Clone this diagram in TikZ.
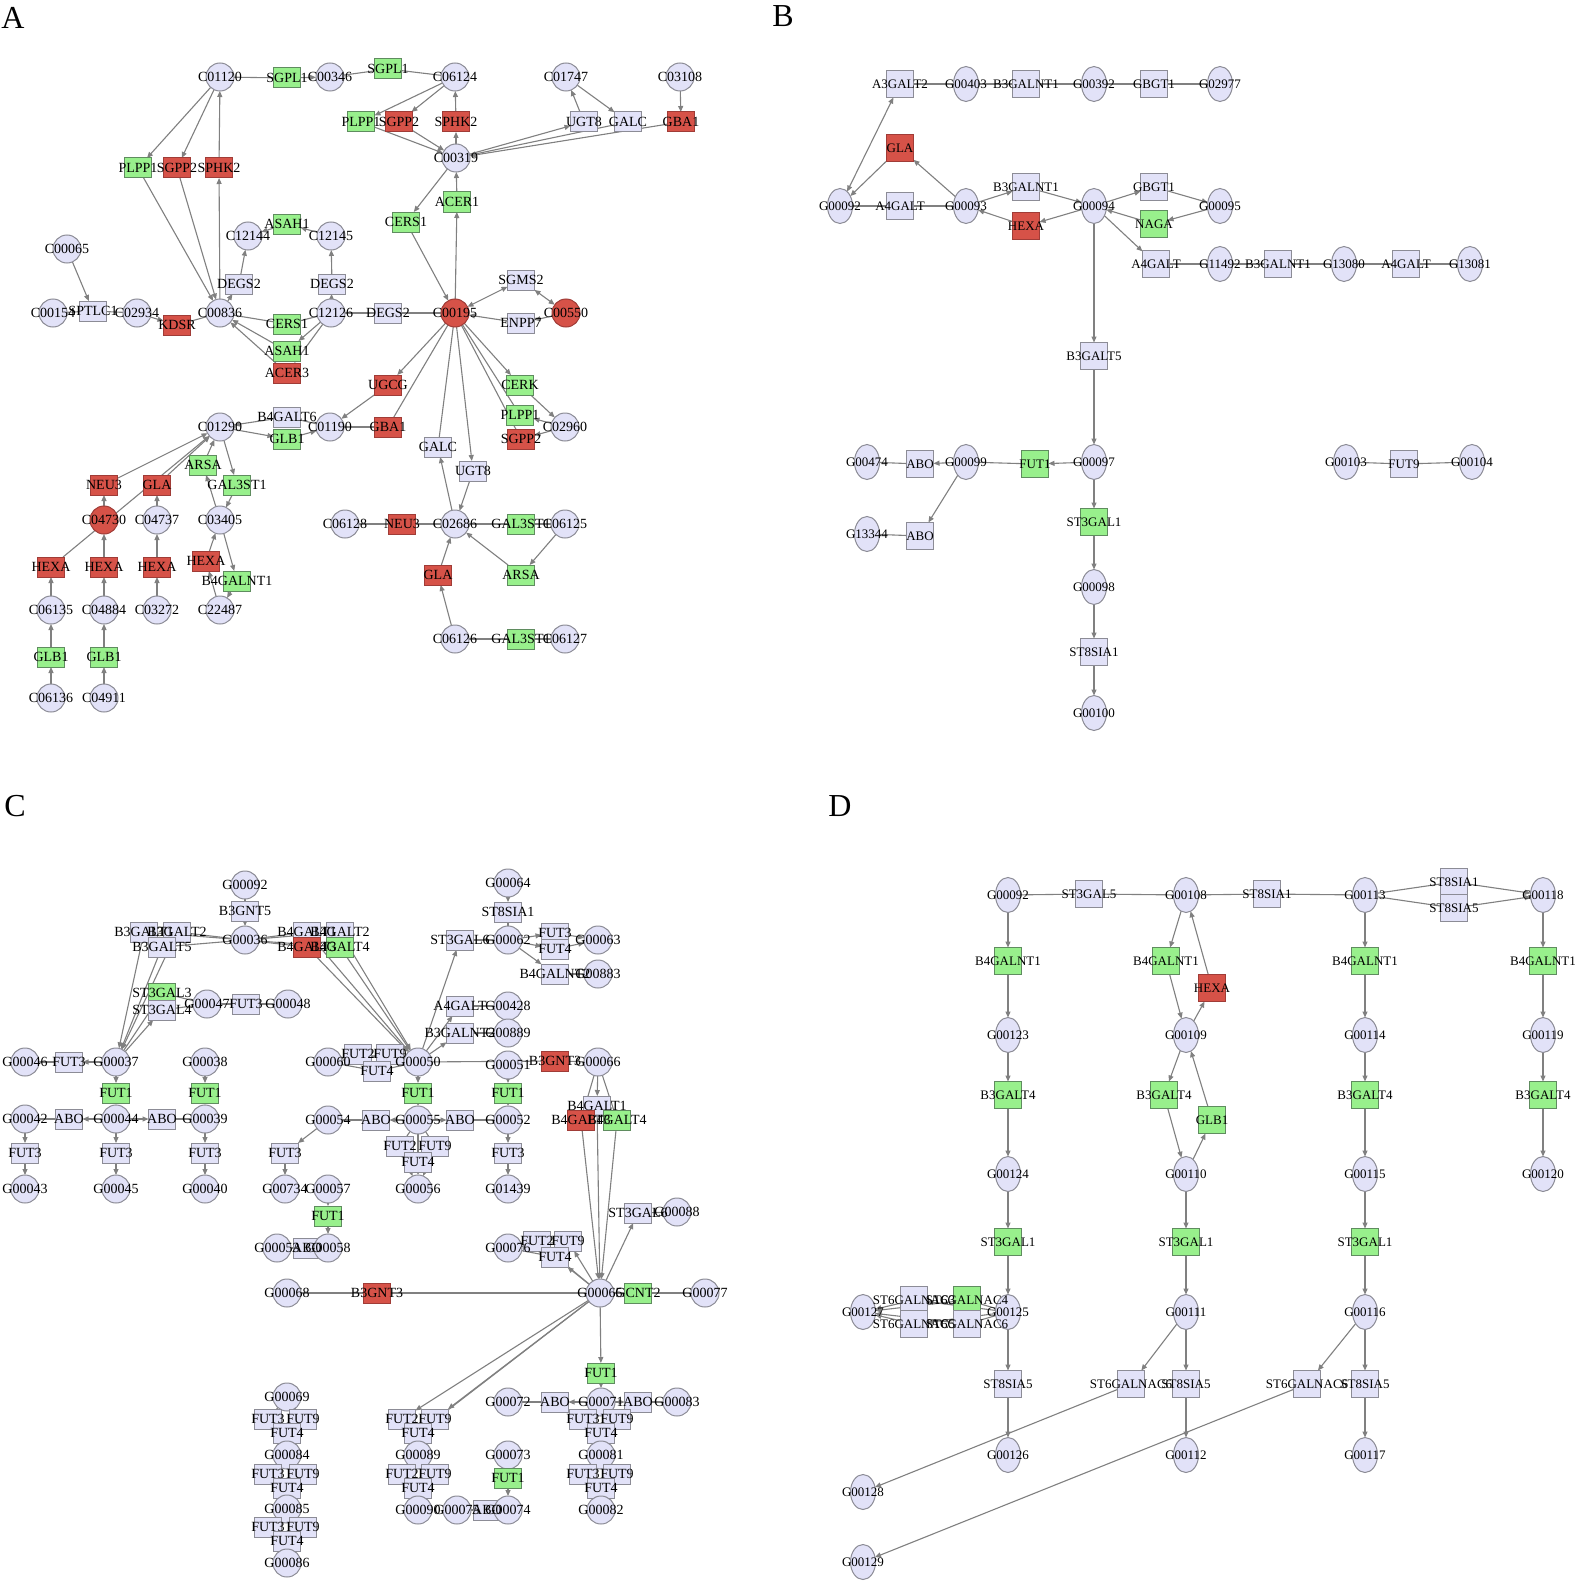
\documentclass[tikz,border=0pt]{standalone}
\usepackage{fontspec}
\setmainfont{Liberation Serif}
\usetikzlibrary{arrows.meta,shapes.geometric}
\definecolor{lav}{RGB}{226,226,248}
\definecolor{lavd}{RGB}{140,140,150}
\definecolor{grn}{RGB}{152,240,140}
\definecolor{grnd}{RGB}{95,140,95}
\definecolor{rd}{RGB}{214,82,72}
\definecolor{rdd}{RGB}{160,60,55}
\definecolor{edgec}{RGB}{128,128,128}
\pgfdeclarelayer{bg}\pgfdeclarelayer{fg}\pgfsetlayers{bg,main,fg}
\def\alllabels{}
\def\lblstyle{lblA}
\newcommand\mknode[5]{\node[#2] (#1) at (#3,#4) {};%
 \xdef\alllabels{\unexpanded\expandafter{\alllabels}\noexpand\node[\lblstyle] (#1t) at (#3,#4) {#5};}}
\newcommand\EA[2]{\draw[arr] (#1) -- (#2);}
\newcommand\EL[2]{\draw[lnk] (#1) -- (#2);}
\newcommand\EB[2]{\draw[bia] (#1) -- (#2);}
\tikzset{
 basenode/.style={draw=lavd, line width=1pt, inner sep=0pt, outer sep=0pt},
 cir/.style={basenode, circle, minimum size=28pt, fill=lav},
 cirr/.style={cir, fill=rd, draw=rdd},
 box/.style={basenode, rectangle, minimum width=27pt, minimum height=20pt, fill=lav},
 boxg/.style={box, fill=grn, draw=grnd},
 boxr/.style={box, fill=rd, draw=rdd},
 ell/.style={basenode, ellipse, minimum width=25pt, minimum height=35pt, fill=lav},
 sq/.style={basenode, rectangle, minimum width=27pt, minimum height=27pt, fill=lav},
 sqg/.style={sq, fill=grn, draw=grnd},
 sqr/.style={sq, fill=rd, draw=rdd},
 lblA/.style={inner sep=0pt, font=\fontsize{14}{16}\selectfont, text=black},
 lblB/.style={inner sep=0pt, font=\fontsize{13}{15}\selectfont, text=black},
 lnk/.style={draw=edgec, line width=1.1pt},
 arr/.style={lnk, -{Triangle[length=6pt,width=5pt]}},
 bia/.style={lnk, {Triangle[length=6pt,width=5pt]}-{Triangle[length=6pt,width=5pt]}},
 panel/.style={inner sep=0pt, font=\fontsize{32}{36}\selectfont}
}
\begin{document}
\begin{tikzpicture}[x=1pt,y=-1pt]
\useasboundingbox (0,0) rectangle (1578,1581);
\node[panel] (pA) at (13,18) {A};
\node[panel] (pB) at (783,16) {B};
\node[panel] (pC) at (15,806) {C};
\node[panel] (pD) at (840,806) {D};
% ---------------- Panel A
\mknode{aC01120}{cir}{220}{77}{C01120}
\mknode{aSGPL1a}{boxg}{287}{78}{SGPL1}
\mknode{aC00346}{cir}{330}{77}{C00346}
\mknode{aSGPL1b}{boxg}{388}{69}{SGPL1}
\mknode{aC06124}{cir}{455}{77}{C06124}
\mknode{aC01747}{cir}{566}{77}{C01747}
\mknode{aC03108}{cir}{680}{77}{C03108}
\mknode{aPLPP1a}{boxg}{361}{122}{PLPP1}
\mknode{aSGPP2a}{boxr}{399}{122}{SGPP2}
\mknode{aSPHK2a}{boxr}{456}{122}{SPHK2}
\mknode{aUGT8a}{box}{584}{122}{UGT8}
\mknode{aGALCa}{box}{628}{122}{GALC}
\mknode{aGBA1a}{boxr}{681}{122}{GBA1}
\mknode{aC00319}{cir}{456}{158}{C00319}
\mknode{aPLPP1b}{boxg}{138}{168}{PLPP1}
\mknode{aSGPP2b}{boxr}{177}{168}{SGPP2}
\mknode{aSPHK2b}{boxr}{219}{168}{SPHK2}
\mknode{aACER1}{boxg}{457}{202}{ACER1}
\mknode{aCERS1a}{boxg}{406}{222}{CERS1}
\mknode{aC00065}{cir}{67}{249}{C00065}
\mknode{aC12144}{cir}{248}{236}{C12144}
\mknode{aASAH1a}{boxg}{287}{224}{ASAH1}
\mknode{aC12145}{cir}{331}{236}{C12145}
\mknode{aDEGS2a}{box}{239}{284}{DEGS2}
\mknode{aDEGS2b}{box}{332}{284}{DEGS2}
\mknode{aSGMS2}{box}{521}{280}{SGMS2}
\mknode{aC00154}{cir}{53}{313}{C00154}
\mknode{aSPTLC1}{box}{93}{311}{SPTLC1}
\mknode{aC02934}{cir}{137}{313}{C02934}
\mknode{aKDSR}{boxr}{177}{325}{KDSR}
\mknode{aC00836}{cir}{220}{313}{C00836}
\mknode{aCERS1b}{boxg}{287}{324}{CERS1}
\mknode{aC12126}{cir}{331}{313}{C12126}
\mknode{aDEGS2c}{box}{388}{313}{DEGS2}
\mknode{aC00195}{cirr}{455}{313}{C00195}
\mknode{aENPP7}{box}{521}{323}{ENPP7}
\mknode{aC00550}{cirr}{566}{313}{C00550}
\mknode{aASAH1b}{boxg}{287}{351}{ASAH1}
\mknode{aACER3}{boxr}{287}{373}{ACER3}
\mknode{aUGCG}{boxr}{388}{385}{UGCG}
\mknode{aCERK}{boxg}{520}{385}{CERK}
\mknode{aB4GALT6}{box}{287}{417}{B4GALT6}
\mknode{aC01290}{cir}{220}{427}{C01290}
\mknode{aGLB1a}{boxg}{287}{439}{GLB1}
\mknode{aC01190}{cir}{330}{427}{C01190}
\mknode{aGBA1b}{boxr}{388}{427}{GBA1}
\mknode{aPLPP1c}{boxg}{520}{415}{PLPP1}
\mknode{aSGPP2c}{boxr}{521}{439}{SGPP2}
\mknode{aC02960}{cir}{565}{427}{C02960}
\mknode{aGALCb}{box}{438}{447}{GALC}
\mknode{aUGT8b}{box}{473}{471}{UGT8}
\mknode{aARSAa}{boxg}{203}{465}{ARSA}
\mknode{aGAL3ST1a}{boxg}{237}{485}{GAL3ST1}
\mknode{aNEU3a}{boxr}{104}{485}{NEU3}
\mknode{aGLAa}{boxr}{157}{485}{GLA}
\mknode{aC04730}{cirr}{104}{520}{C04730}
\mknode{aC04737}{cir}{157}{520}{C04737}
\mknode{aC03405}{cir}{220}{520}{C03405}
\mknode{aC06128}{cir}{345}{524}{C06128}
\mknode{aNEU3b}{boxr}{402}{524}{NEU3}
\mknode{aC02686}{cir}{455}{524}{C02686}
\mknode{aGAL3ST1b}{boxg}{521}{524}{GAL3ST1}
\mknode{aC06125}{cir}{565}{524}{C06125}
\mknode{aHEXAa}{boxr}{51}{567}{HEXA}
\mknode{aHEXAb}{boxr}{104}{567}{HEXA}
\mknode{aHEXAc}{boxr}{157}{567}{HEXA}
\mknode{aHEXAd}{boxr}{206}{561}{HEXA}
\mknode{aGLAb}{boxr}{438}{575}{GLA}
\mknode{aARSAb}{boxg}{521}{575}{ARSA}
\mknode{aB4GALNT1}{boxg}{237}{581}{B4GALNT1}
\mknode{aC06135}{cir}{51}{610}{C06135}
\mknode{aC04884}{cir}{104}{610}{C04884}
\mknode{aC03272}{cir}{157}{610}{C03272}
\mknode{aC22487}{cir}{220}{610}{C22487}
\mknode{aC06126}{cir}{455}{639}{C06126}
\mknode{aGAL3ST1c}{boxg}{521}{639}{GAL3ST1}
\mknode{aC06127}{cir}{565}{639}{C06127}
\mknode{aGLB1b}{boxg}{51}{657}{GLB1}
\mknode{aGLB1c}{boxg}{104}{657}{GLB1}
\mknode{aC06136}{cir}{51}{698}{C06136}
\mknode{aC04911}{cir}{104}{698}{C04911}
% ---------------- Panel C
\mknode{cG00092}{cir}{245}{885}{G00092}
\mknode{cB3GNT5}{box}{245}{911}{B3GNT5}
\mknode{cG00036}{cir}{245}{940}{G00036}
\mknode{cB3GALT1}{box}{144}{932}{B3GALT1}
\mknode{cB3GALT2}{box}{177}{932}{B3GALT2}
\mknode{cB3GALT5}{box}{162}{947}{B3GALT5}
\mknode{cB4GALT1a}{box}{307}{932}{B4GALT1}
\mknode{cB4GALT2}{box}{340}{932}{B4GALT2}
\mknode{cB4GALT3a}{boxr}{307}{947}{B4GALT3}
\mknode{cB4GALT4a}{boxg}{340}{947}{B4GALT4}
\mknode{cST3GAL3}{boxg}{162}{993}{ST3GAL3}
\mknode{cST3GAL4}{box}{162}{1010}{ST3GAL4}
\mknode{cG00047}{cir}{207}{1004}{G00047}
\mknode{cFUT3a}{box}{246}{1004}{FUT3}
\mknode{cG00048}{cir}{288}{1004}{G00048}
\mknode{cG00046}{cir}{25}{1062}{G00046}
\mknode{cFUT3b}{box}{69}{1062}{FUT3}
\mknode{cG00037}{cir}{116}{1062}{G00037}
\mknode{cG00038}{cir}{205}{1062}{G00038}
\mknode{cFUT1a}{boxg}{116}{1093}{FUT1}
\mknode{cFUT1b}{boxg}{205}{1093}{FUT1}
\mknode{cG00042}{cir}{25}{1119}{G00042}
\mknode{cABOa}{box}{69}{1119}{ABO}
\mknode{cG00044}{cir}{116}{1119}{G00044}
\mknode{cABOb}{box}{162}{1119}{ABO}
\mknode{cG00039}{cir}{205}{1119}{G00039}
\mknode{cFUT3c}{box}{25}{1153}{FUT3}
\mknode{cFUT3d}{box}{116}{1153}{FUT3}
\mknode{cFUT3e}{box}{205}{1153}{FUT3}
\mknode{cG00043}{cir}{25}{1189}{G00043}
\mknode{cG00045}{cir}{116}{1189}{G00045}
\mknode{cG00040}{cir}{205}{1189}{G00040}
\mknode{cG00064}{cir}{508}{883}{G00064}
\mknode{cST8SIA1}{box}{508}{912}{ST8SIA1}
\mknode{cST3GAL6a}{box}{460}{940}{ST3GAL6}
\mknode{cG00062}{cir}{508}{940}{G00062}
\mknode{cFUT3f}{box}{555}{933}{FUT3}
\mknode{cFUT4a}{box}{555}{949}{FUT4}
\mknode{cG00063}{cir}{598}{940}{G00063}
\mknode{cB4GALNT2}{box}{555}{974}{B4GALNT2}
\mknode{cG00883}{cir}{598}{974}{G00883}
\mknode{cA4GALT}{box}{460}{1006}{A4GALT}
\mknode{cG00428}{cir}{508}{1006}{G00428}
\mknode{cB3GALNT2}{box}{460}{1033}{B3GALNT2}
\mknode{cG00889}{cir}{508}{1033}{G00889}
\mknode{cG00060}{cir}{328}{1062}{G00060}
\mknode{cFUT2a}{box}{358}{1054}{FUT2}
\mknode{cFUT9a}{box}{390}{1054}{FUT9}
\mknode{cFUT4b}{box}{377}{1071}{FUT4}
\mknode{cG00050}{cir}{418}{1062}{G00050}
\mknode{cG00051}{cir}{508}{1065}{G00051}
\mknode{cB3GNT3a}{boxr}{555}{1061}{B3GNT3}
\mknode{cG00066}{cir}{598}{1062}{G00066}
\mknode{cFUT1c}{boxg}{418}{1093}{FUT1}
\mknode{cFUT1d}{boxg}{508}{1093}{FUT1}
\mknode{cB4GALT1b}{box}{597}{1106}{B4GALT1}
\mknode{cB4GALT3b}{boxr}{581}{1120}{B4GALT3}
\mknode{cB4GALT4b}{boxg}{617}{1120}{B4GALT4}
\mknode{cG00054}{cir}{328}{1120}{G00054}
\mknode{cABOc}{box}{376}{1120}{ABO}
\mknode{cG00055}{cir}{418}{1120}{G00055}
\mknode{cABOd}{box}{460}{1120}{ABO}
\mknode{cG00052}{cir}{508}{1120}{G00052}
\mknode{cFUT2b}{box}{400}{1146}{FUT2}
\mknode{cFUT9b}{box}{435}{1146}{FUT9}
\mknode{cFUT4c}{box}{418}{1162}{FUT4}
\mknode{cFUT3g}{box}{285}{1153}{FUT3}
\mknode{cFUT3h}{box}{508}{1153}{FUT3}
\mknode{cG00734}{cir}{285}{1189}{G00734}
\mknode{cG00057}{cir}{328}{1189}{G00057}
\mknode{cG00056}{cir}{418}{1189}{G00056}
\mknode{cG01439}{cir}{508}{1189}{G01439}
\mknode{cFUT1e}{boxg}{328}{1216}{FUT1}
\mknode{cG00053}{cir}{277}{1248}{G00053}
\mknode{cABOe}{box}{307}{1248}{ABO}
\mknode{cG00058}{cir}{328}{1248}{G00058}
\mknode{cG00068}{cir}{287}{1293}{G00068}
\mknode{cB3GNT3b}{boxr}{377}{1293}{B3GNT3}
\mknode{cST3GAL6b}{box}{638}{1213}{ST3GAL6}
\mknode{cG00088}{cir}{677}{1212}{G00088}
\mknode{cG00076}{cir}{508}{1248}{G00076}
\mknode{cFUT2c}{box}{537}{1241}{FUT2}
\mknode{cFUT9c}{box}{568}{1241}{FUT9}
\mknode{cFUT4d}{box}{555}{1257}{FUT4}
\mknode{cG00065}{cir}{600}{1293}{G00065}
\mknode{cGCNT2}{boxg}{638}{1293}{GCNT2}
\mknode{cG00077}{cir}{705}{1293}{G00077}
\mknode{cFUT1f}{boxg}{601}{1373}{FUT1}
\mknode{cG00072}{cir}{508}{1402}{G00072}
\mknode{cABOf}{box}{555}{1402}{ABO}
\mknode{cG00071}{cir}{601}{1402}{G00071}
\mknode{cABOg}{box}{638}{1402}{ABO}
\mknode{cG00083}{cir}{677}{1402}{G00083}
\mknode{cFUT3i}{box}{583}{1419}{FUT3}
\mknode{cFUT9d}{box}{617}{1419}{FUT9}
\mknode{cFUT4e}{box}{601}{1433}{FUT4}
\mknode{cG00081}{cir}{601}{1455}{G00081}
\mknode{cFUT3j}{box}{583}{1474}{FUT3}
\mknode{cFUT9e}{box}{617}{1474}{FUT9}
\mknode{cFUT4f}{box}{601}{1488}{FUT4}
\mknode{cG00082}{cir}{601}{1510}{G00082}
\mknode{cFUT2d}{box}{402}{1419}{FUT2}
\mknode{cFUT9f}{box}{435}{1419}{FUT9}
\mknode{cFUT4g}{box}{418}{1433}{FUT4}
\mknode{cG00089}{cir}{418}{1455}{G00089}
\mknode{cFUT2e}{box}{402}{1474}{FUT2}
\mknode{cFUT9g}{box}{435}{1474}{FUT9}
\mknode{cFUT4h}{box}{418}{1488}{FUT4}
\mknode{cG00090}{cir}{418}{1510}{G00090}
\mknode{cG00075}{cir}{457}{1510}{G00075}
\mknode{cABOh}{box}{487}{1510}{ABO}
\mknode{cG00074}{cir}{508}{1510}{G00074}
\mknode{cG00073}{cir}{508}{1455}{G00073}
\mknode{cFUT1g}{boxg}{508}{1478}{FUT1}
\mknode{cG00069}{cir}{287}{1397}{G00069}
\mknode{cFUT3k}{box}{268}{1419}{FUT3}
\mknode{cFUT9h}{box}{303}{1419}{FUT9}
\mknode{cFUT4i}{box}{287}{1433}{FUT4}
\mknode{cG00084}{cir}{287}{1455}{G00084}
\mknode{cFUT3l}{box}{268}{1474}{FUT3}
\mknode{cFUT9i}{box}{303}{1474}{FUT9}
\mknode{cFUT4j}{box}{287}{1488}{FUT4}
\mknode{cG00085}{cir}{287}{1509}{G00085}
\mknode{cFUT3m}{box}{268}{1527}{FUT3}
\mknode{cFUT9j}{box}{303}{1527}{FUT9}
\mknode{cFUT4k}{box}{287}{1541}{FUT4}
\mknode{cG00086}{cir}{287}{1563}{G00086}
% ---------------- Panel B
\def\lblstyle{lblB}
\mknode{bA3GALT2}{sq}{900}{84}{A3GALT2}
\mknode{bG00403}{ell}{966}{84}{G00403}
\mknode{bB3GALNT1a}{sq}{1026}{84}{B3GALNT1}
\mknode{bG00392}{ell}{1094}{84}{G00392}
\mknode{bGBGT1a}{sq}{1154}{84}{GBGT1}
\mknode{bG02977}{ell}{1220}{84}{G02977}
\mknode{bGLA}{sqr}{900}{148}{GLA}
\mknode{bG00092}{ell}{840}{206}{G00092}
\mknode{bA4GALTa}{sq}{900}{206}{A4GALT}
\mknode{bG00093}{ell}{966}{206}{G00093}
\mknode{bB3GALNT1b}{sq}{1026}{187}{B3GALNT1}
\mknode{bHEXA}{sqr}{1026}{226}{HEXA}
\mknode{bG00094}{ell}{1094}{206}{G00094}
\mknode{bGBGT1b}{sq}{1154}{187}{GBGT1}
\mknode{bNAGA}{sqg}{1154}{224}{NAGA}
\mknode{bG00095}{ell}{1220}{206}{G00095}
\mknode{bA4GALTb}{sq}{1156}{264}{A4GALT}
\mknode{bG11492}{ell}{1220}{264}{G11492}
\mknode{bB3GALNT1c}{sq}{1278}{264}{B3GALNT1}
\mknode{bG13080}{ell}{1344}{264}{G13080}
\mknode{bA4GALTc}{sq}{1406}{264}{A4GALT}
\mknode{bG13081}{ell}{1470}{264}{G13081}
\mknode{bB3GALT5}{sq}{1094}{356}{B3GALT5}
\mknode{bG00474}{ell}{867}{462}{G00474}
\mknode{bABOa}{sq}{920}{464}{ABO}
\mknode{bG00099}{ell}{966}{462}{G00099}
\mknode{bFUT1}{sqg}{1035}{464}{FUT1}
\mknode{bG00097}{ell}{1094}{462}{G00097}
\mknode{bG13344}{ell}{867}{534}{G13344}
\mknode{bABOb}{sq}{920}{536}{ABO}
\mknode{bST3GAL1}{sqg}{1094}{522}{ST3GAL1}
\mknode{bG00098}{ell}{1094}{587}{G00098}
\mknode{bST8SIA1}{sq}{1094}{652}{ST8SIA1}
\mknode{bG00100}{ell}{1094}{713}{G00100}
\mknode{bG00103}{ell}{1346}{462}{G00103}
\mknode{bFUT9}{sq}{1404}{464}{FUT9}
\mknode{bG00104}{ell}{1472}{462}{G00104}
% ---------------- Panel D
\mknode{dG00092}{ell}{1008}{895}{G00092}
\mknode{dST3GAL5}{sq}{1089}{894}{ST3GAL5}
\mknode{dG00108}{ell}{1186}{895}{G00108}
\mknode{dST8SIA1a}{sq}{1267}{894}{ST8SIA1}
\mknode{dG00113}{ell}{1365}{895}{G00113}
\mknode{dST8SIA1b}{sq}{1454}{882}{ST8SIA1}
\mknode{dST8SIA5a}{sq}{1454}{908}{ST8SIA5}
\mknode{dG00118}{ell}{1543}{895}{G00118}
\mknode{dB4GALNT1a}{sqg}{1008}{961}{B4GALNT1}
\mknode{dB4GALNT1b}{sqg}{1166}{961}{B4GALNT1}
\mknode{dHEXA}{sqr}{1212}{988}{HEXA}
\mknode{dB4GALNT1c}{sqg}{1365}{961}{B4GALNT1}
\mknode{dB4GALNT1d}{sqg}{1543}{961}{B4GALNT1}
\mknode{dG00123}{ell}{1008}{1035}{G00123}
\mknode{dG00109}{ell}{1186}{1035}{G00109}
\mknode{dG00114}{ell}{1365}{1035}{G00114}
\mknode{dG00119}{ell}{1543}{1035}{G00119}
\mknode{dB3GALT4a}{sqg}{1008}{1095}{B3GALT4}
\mknode{dB3GALT4b}{sqg}{1164}{1095}{B3GALT4}
\mknode{dGLB1}{sqg}{1212}{1120}{GLB1}
\mknode{dB3GALT4c}{sqg}{1365}{1095}{B3GALT4}
\mknode{dB3GALT4d}{sqg}{1543}{1095}{B3GALT4}
\mknode{dG00124}{ell}{1008}{1174}{G00124}
\mknode{dG00110}{ell}{1186}{1174}{G00110}
\mknode{dG00115}{ell}{1365}{1174}{G00115}
\mknode{dG00120}{ell}{1543}{1174}{G00120}
\mknode{dST3GAL1a}{sqg}{1008}{1242}{ST3GAL1}
\mknode{dST3GAL1b}{sqg}{1186}{1242}{ST3GAL1}
\mknode{dST3GAL1c}{sqg}{1365}{1242}{ST3GAL1}
\mknode{dG00127}{ell}{863}{1312}{G00127}
\mknode{dSTa}{sq}{914}{1300}{ST6GALNAC3}
\mknode{dSTb}{sqg}{967}{1300}{ST6GALNAC4}
\mknode{dSTc}{sq}{914}{1324}{ST6GALNAC5}
\mknode{dSTd}{sq}{967}{1324}{ST6GALNAC6}
\mknode{dG00125}{ell}{1008}{1312}{G00125}
\mknode{dG00111}{ell}{1186}{1312}{G00111}
\mknode{dG00116}{ell}{1365}{1312}{G00116}
\mknode{dST8SIA5b}{sq}{1008}{1384}{ST8SIA5}
\mknode{dSTe}{sq}{1131}{1384}{ST6GALNAC6}
\mknode{dST8SIA5c}{sq}{1186}{1384}{ST8SIA5}
\mknode{dSTf}{sq}{1307}{1384}{ST6GALNAC6}
\mknode{dST8SIA5d}{sq}{1365}{1384}{ST8SIA5}
\mknode{dG00126}{ell}{1008}{1455}{G00126}
\mknode{dG00112}{ell}{1186}{1455}{G00112}
\mknode{dG00117}{ell}{1365}{1455}{G00117}
\mknode{dG00128}{ell}{863}{1492}{G00128}
\mknode{dG00129}{ell}{863}{1562}{G00129}
% ================= EDGES
\begin{pgfonlayer}{bg}
\fill[white] (0,0) rectangle (1578,1581);
% A
\EL{aC01120}{aSGPL1a}\EA{aSGPL1a}{aC00346}\EL{aC00346}{aSGPL1b}\EL{aSGPL1b}{aC06124}
\EA{aC01120}{aPLPP1b}\EA{aC01120}{aSGPP2b}\EA{aSPHK2b}{aC01120}\EA{aC00836}{aSPHK2b}
\EA{aPLPP1b}{aC00836}\EA{aSGPP2b}{aC00836}
\EA{aC06124}{aPLPP1a}\EA{aC06124}{aSGPP2a}\EA{aSPHK2a}{aC06124}\EA{aC00319}{aSPHK2a}
\EA{aPLPP1a}{aC00319}\EA{aSGPP2a}{aC00319}
\EA{aC00319}{aUGT8a}\EA{aUGT8a}{aC01747}\EA{aC01747}{aGALCa}\EA{aGALCa}{aC00319}
\EA{aGBA1a}{aC00319}\EA{aC03108}{aGBA1a}
\EA{aACER1}{aC00319}\EA{aC00195}{aACER1}\EA{aC00319}{aCERS1a}\EA{aCERS1a}{aC00195}
\EB{aC00195}{aSGMS2}\EB{aSGMS2}{aC00550}\EA{aENPP7}{aC00195}\EA{aC00550}{aENPP7}
\EL{aC12126}{aDEGS2c}\EL{aDEGS2c}{aC00195}
\EA{aC00065}{aSPTLC1}\EL{aC00154}{aSPTLC1}\EL{aSPTLC1}{aC02934}\EA{aC02934}{aKDSR}\EL{aKDSR}{aC00836}
\EA{aC00836}{aDEGS2a}\EA{aDEGS2a}{aC12144}\EA{aC12145}{aASAH1a}\EA{aASAH1a}{aC12144}
\EA{aC12126}{aDEGS2b}\EA{aDEGS2b}{aC12145}
\EL{aC00836}{aCERS1b}\EL{aCERS1b}{aC12126}
\EA{aC12126}{aASAH1b}\EA{aASAH1b}{aC00836}\EA{aC12126}{aACER3}\EA{aACER3}{aC00836}
\EA{aC00195}{aUGCG}\EA{aUGCG}{aC01190}\EL{aC01190}{aGBA1b}\EL{aGBA1b}{aC00195}
\EA{aC02686}{aGALCb}\EL{aGALCb}{aC00195}\EA{aC00195}{aUGT8b}\EA{aUGT8b}{aC02686}
\EA{aC00195}{aCERK}\EA{aCERK}{aC02960}\EA{aC02960}{aPLPP1c}\EL{aPLPP1c}{aC00195}
\EA{aC02960}{aSGPP2c}\EL{aSGPP2c}{aC00195}
\EA{aB4GALT6}{aC01290}\EL{aC01190}{aB4GALT6}\EA{aC01290}{aGLB1a}\EA{aGLB1a}{aC01190}
\EA{aC04730}{aNEU3a}\EA{aNEU3a}{aC01290}\EA{aC04737}{aGLAa}\EA{aGLAa}{aC01290}
\EA{aHEXAa}{aC01290}
\EA{aC06135}{aHEXAa}\EA{aGLB1b}{aC06135}\EA{aC06136}{aGLB1b}
\EA{aHEXAb}{aC04730}\EA{aC04884}{aHEXAb}\EA{aGLB1c}{aC04884}\EA{aC04911}{aGLB1c}
\EA{aHEXAc}{aC04737}\EA{aC03272}{aHEXAc}
\EA{aC03405}{aARSAa}\EA{aARSAa}{aC01290}\EA{aC01290}{aGAL3ST1a}\EA{aGAL3ST1a}{aC03405}
\EA{aHEXAd}{aC03405}\EA{aC22487}{aHEXAd}\EA{aC03405}{aB4GALNT1}\EA{aB4GALNT1}{aC22487}
\EL{aC06128}{aNEU3b}\EL{aNEU3b}{aC02686}\EL{aC02686}{aGAL3ST1b}\EL{aGAL3ST1b}{aC06125}
\EA{aC06125}{aARSAb}\EA{aARSAb}{aC02686}\EA{aC06126}{aGLAb}\EA{aGLAb}{aC02686}
\EL{aC06126}{aGAL3ST1c}\EL{aGAL3ST1c}{aC06127}
% B
\EL{bA3GALT2}{bG00403}\EL{bG00403}{bB3GALNT1a}\EL{bB3GALNT1a}{bG00392}\EL{bG00392}{bGBGT1a}\EL{bGBGT1a}{bG02977}
\EB{bG00092}{bA3GALT2}\EA{bGLA}{bG00092}\EA{bG00093}{bGLA}
\EL{bG00092}{bA4GALTa}\EL{bA4GALTa}{bG00093}
\EA{bG00093}{bB3GALNT1b}\EA{bB3GALNT1b}{bG00094}\EA{bG00094}{bHEXA}\EA{bHEXA}{bG00093}
\EA{bG00094}{bGBGT1b}\EA{bGBGT1b}{bG00095}\EA{bG00095}{bNAGA}\EA{bNAGA}{bG00094}
\EA{bG00094}{bA4GALTb}\EL{bA4GALTb}{bG11492}\EL{bG11492}{bB3GALNT1c}\EL{bB3GALNT1c}{bG13080}\EL{bG13080}{bA4GALTc}\EL{bA4GALTc}{bG13081}
\EA{bG00094}{bB3GALT5}\EA{bB3GALT5}{bG00097}\EA{bG00097}{bFUT1}\EL{bFUT1}{bG00099}
\EA{bG00099}{bABOa}\EL{bABOa}{bG00474}\EA{bG00099}{bABOb}\EL{bABOb}{bG13344}
\EA{bG00097}{bST3GAL1}\EA{bST3GAL1}{bG00098}\EA{bG00098}{bST8SIA1}\EA{bST8SIA1}{bG00100}
\EL{bG00103}{bFUT9}\EL{bFUT9}{bG00104}
% C
\EL{cG00092}{cB3GNT5}\EA{cB3GNT5}{cG00036}
\EL{cG00036}{cB3GALT1}\EL{cG00036}{cB3GALT2}\EL{cG00036}{cB3GALT5}
\EA{cB3GALT1}{cG00037}\EA{cB3GALT2}{cG00037}\EA{cB3GALT5}{cG00037}
\EA{cG00037}{cST3GAL3}\EA{cG00037}{cST3GAL4}
\EL{cST3GAL3}{cG00047}\EL{cST3GAL4}{cG00047}\EL{cG00047}{cFUT3a}\EL{cFUT3a}{cG00048}
\EL{cG00036}{cB4GALT1a}\EL{cG00036}{cB4GALT2}\EL{cG00036}{cB4GALT3a}\EL{cG00036}{cB4GALT4a}
\EA{cB4GALT1a}{cG00050}\EA{cB4GALT2}{cG00050}\EA{cB4GALT3a}{cG00050}\EA{cB4GALT4a}{cG00050}
\EA{cG00037}{cFUT3b}\EL{cFUT3b}{cG00046}
\EA{cG00037}{cFUT1a}\EA{cFUT1a}{cG00044}\EA{cG00038}{cFUT1b}\EA{cFUT1b}{cG00039}
\EA{cG00044}{cABOa}\EL{cABOa}{cG00042}\EA{cG00044}{cABOb}\EL{cABOb}{cG00039}
\EA{cG00042}{cFUT3c}\EA{cFUT3c}{cG00043}\EA{cG00044}{cFUT3d}\EA{cFUT3d}{cG00045}\EA{cG00039}{cFUT3e}\EA{cFUT3e}{cG00040}
\EA{cG00050}{cST3GAL6a}\EL{cST3GAL6a}{cG00062}
\EA{cG00064}{cST8SIA1}\EL{cST8SIA1}{cG00062}
\EA{cG00062}{cFUT3f}\EA{cFUT3f}{cG00063}\EA{cG00062}{cFUT4a}\EA{cFUT4a}{cG00063}
\EA{cG00062}{cB4GALNT2}\EL{cB4GALNT2}{cG00883}
\EA{cG00050}{cA4GALT}\EL{cA4GALT}{cG00428}\EA{cG00050}{cB3GALNT2}\EL{cB3GALNT2}{cG00889}
\EL{cG00050}{cB3GNT3a}\EL{cB3GNT3a}{cG00066}
\EL{cG00060}{cFUT2a}\EL{cG00060}{cFUT9a}\EL{cG00060}{cFUT4b}\EL{cFUT2a}{cG00050}\EL{cFUT9a}{cG00050}\EL{cFUT4b}{cG00050}
\EA{cG00050}{cFUT1c}\EA{cFUT1c}{cG00055}\EA{cG00051}{cFUT1d}\EA{cFUT1d}{cG00052}
\EA{cG00055}{cABOc}\EL{cABOc}{cG00054}\EA{cG00055}{cABOd}\EL{cABOd}{cG00052}
\EL{cG00055}{cFUT2b}\EL{cG00055}{cFUT9b}\EL{cG00055}{cFUT4c}\EA{cFUT2b}{cG00056}\EA{cFUT9b}{cG00056}\EA{cFUT4c}{cG00056}
\EA{cG00054}{cFUT3g}\EA{cFUT3g}{cG00734}\EA{cG00052}{cFUT3h}\EA{cFUT3h}{cG01439}
\EA{cG00057}{cFUT1e}\EA{cFUT1e}{cG00058}\EL{cG00058}{cABOe}\EL{cABOe}{cG00053}
\EA{cG00066}{cB4GALT1b}\EL{cG00066}{cB4GALT3b}\EL{cG00066}{cB4GALT4b}
\EA{cB4GALT1b}{cG00065}\EA{cB4GALT3b}{cG00065}\EA{cB4GALT4b}{cG00065}
\EA{cG00065}{cST3GAL6b}\EL{cST3GAL6b}{cG00088}
\EL{cG00065}{cFUT2c}\EA{cG00065}{cFUT9c}\EA{cG00065}{cFUT4d}\EL{cFUT2c}{cG00076}\EL{cFUT9c}{cG00076}\EL{cFUT4d}{cG00076}
\EL{cG00068}{cB3GNT3b}\EL{cB3GNT3b}{cG00065}
\EL{cG00065}{cGCNT2}\EL{cGCNT2}{cG00077}
\EA{cG00065}{cFUT1f}\EA{cFUT1f}{cG00071}
\EA{cG00071}{cABOf}\EL{cABOf}{cG00072}\EA{cG00071}{cABOg}\EL{cABOg}{cG00083}
\EL{cG00071}{cFUT3i}\EL{cG00071}{cFUT9d}\EL{cFUT3i}{cG00081}\EL{cFUT9d}{cG00081}\EL{cFUT4e}{cG00081}
\EL{cG00081}{cFUT3j}\EL{cG00081}{cFUT9e}\EL{cFUT3j}{cG00082}\EL{cFUT9e}{cG00082}\EL{cFUT4f}{cG00082}
\EA{cG00065}{cFUT2d}\EA{cG00065}{cFUT9f}\EL{cG00065}{cFUT4g}
\EL{cFUT2d}{cG00089}\EL{cFUT9f}{cG00089}\EL{cFUT4g}{cG00089}
\EL{cG00089}{cFUT2e}\EL{cG00089}{cFUT9g}\EL{cFUT2e}{cG00090}\EL{cFUT9g}{cG00090}\EL{cFUT4h}{cG00090}
\EA{cG00073}{cFUT1g}\EA{cFUT1g}{cG00074}\EL{cG00074}{cABOh}\EL{cABOh}{cG00075}
\EL{cG00069}{cFUT3k}\EL{cG00069}{cFUT9h}\EL{cFUT3k}{cG00084}\EL{cFUT9h}{cG00084}\EL{cFUT4i}{cG00084}
\EL{cG00084}{cFUT3l}\EL{cG00084}{cFUT9i}\EL{cFUT3l}{cG00085}\EL{cFUT9i}{cG00085}\EL{cFUT4j}{cG00085}
\EL{cG00085}{cFUT3m}\EL{cG00085}{cFUT9j}\EL{cFUT3m}{cG00086}\EL{cFUT9j}{cG00086}\EL{cFUT4k}{cG00086}
% D
\EL{dG00092}{dST3GAL5}\EL{dST3GAL5}{dG00108}\EL{dG00108}{dST8SIA1a}\EL{dST8SIA1a}{dG00113}
\EL{dG00113}{dST8SIA1b}\EL{dG00113}{dST8SIA5a}\EA{dST8SIA1b}{dG00118}\EA{dST8SIA5a}{dG00118}
\EA{dG00092}{dB4GALNT1a}\EA{dB4GALNT1a}{dG00123}\EA{dG00123}{dB3GALT4a}\EA{dB3GALT4a}{dG00124}
\EA{dG00124}{dST3GAL1a}\EA{dST3GAL1a}{dG00125}\EA{dG00125}{dST8SIA5b}\EA{dST8SIA5b}{dG00126}
\EA{dG00108}{dB4GALNT1b}\EA{dB4GALNT1b}{dG00109}\EA{dG00109}{dHEXA}\EA{dHEXA}{dG00108}
\EA{dG00109}{dB3GALT4b}\EA{dB3GALT4b}{dG00110}\EA{dG00110}{dGLB1}\EA{dGLB1}{dG00109}
\EA{dG00110}{dST3GAL1b}\EA{dST3GAL1b}{dG00111}\EA{dG00111}{dST8SIA5c}\EA{dST8SIA5c}{dG00112}
\EA{dG00111}{dSTe}\EA{dSTe}{dG00128}
\EA{dG00113}{dB4GALNT1c}\EA{dB4GALNT1c}{dG00114}\EA{dG00114}{dB3GALT4c}\EA{dB3GALT4c}{dG00115}
\EA{dG00115}{dST3GAL1c}\EA{dST3GAL1c}{dG00116}\EA{dG00116}{dST8SIA5d}\EA{dST8SIA5d}{dG00117}
\EA{dG00116}{dSTf}\EA{dSTf}{dG00129}
\EA{dG00118}{dB4GALNT1d}\EA{dB4GALNT1d}{dG00119}\EA{dG00119}{dB3GALT4d}\EA{dB3GALT4d}{dG00120}
\EA{dG00125}{dSTa}\EA{dG00125}{dSTc}\EL{dG00125}{dSTb}\EL{dG00125}{dSTd}
\EA{dSTa}{dG00127}\EA{dSTb}{dG00127}\EA{dSTc}{dG00127}\EA{dSTd}{dG00127}
\end{pgfonlayer}
\begin{pgfonlayer}{fg}
\alllabels
\end{pgfonlayer}
\end{tikzpicture}
\end{document}
